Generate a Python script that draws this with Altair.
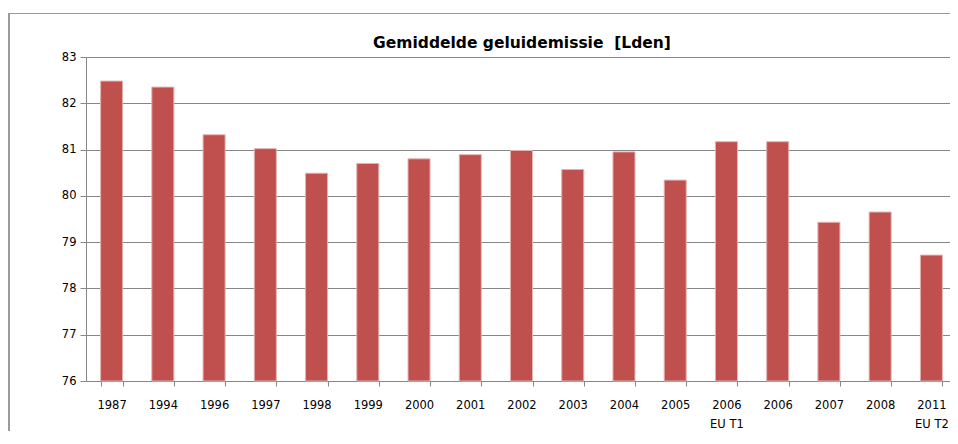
import altair as alt
import pandas as pd

categories = ["1987", "1994", "1996", "1997", "1998", "1999", "2000", "2001", "2002",
              "2003", "2004", "2005", "2006|EU T1", "2006", "2007", "2008", "2011|EU T2"]
values = [82.48, 82.35, 81.32, 81.02, 80.49, 80.70, 80.80, 80.89, 80.98,
          80.57, 80.95, 80.34, 81.17, 81.17, 79.43, 79.65, 78.72]
y_min, y_max = 76, 83
title_text = "Gemiddelde geluidemissie \u00a0[Lden]"

df = pd.DataFrame({"cat": categories, "val": values})

W, H = 864, 324
BAND_RANGE = 871

bars = alt.Chart(df).mark_bar(color="#C0504D", stroke="#E3B2B1", strokeWidth=1).encode(
    x=alt.X("cat:N", sort=categories,
            scale=alt.Scale(paddingInner=0.57, paddingOuter=0.285, range=[0, BAND_RANGE]),
            axis=alt.Axis(title=None, labelAngle=0, tickBand="extent",
                          labelExpr="split(datum.label, '|')",
                          labelFont="DejaVu Sans", labelFontSize=11.5, labelColor="#000",
                          labelPadding=13, labelLineHeight=19.5,
                          domainColor="#868686", tickColor="#868686", tickSize=5,
                          grid=False)),
    y=alt.Y("val:Q", scale=alt.Scale(domain=[y_min, y_max], zero=False, nice=False),
            axis=alt.Axis(title=None, values=list(range(y_min, y_max + 1)),
                          labelFont="DejaVu Sans", labelFontSize=11.5, labelColor="#000",
                          labelPadding=4, domainColor="#868686", tickColor="#868686",
                          tickSize=6, gridColor="#868686", gridOpacity=1)),
    y2=alt.datum(y_min),
)

border = alt.Chart(df).mark_rect(fill=None, stroke="#9a9a9a", strokeWidth=1, clip=False).encode(
    x=alt.value(-77), x2=alt.value(W + 40), y=alt.value(-43.5), y2=alt.value(H + 120)
)

title = alt.Chart(pd.DataFrame({"t": [title_text]})).mark_text(
    font="DejaVu Sans", fontSize=15.5, fontWeight="bold", color="#000",
    align="center", baseline="middle"
).encode(text="t:N", x=alt.value(436), y=alt.value(-14))

chart = alt.layer(border, bars, title).properties(
    width=W, height=H,
    autosize=alt.AutoSizeParams(type="none"),
    padding={"left": 78, "top": 49, "right": 0, "bottom": 50},
).configure_view(stroke=None)

chart.save("out.html", embed_options={"renderer": "svg", "actions": False})
